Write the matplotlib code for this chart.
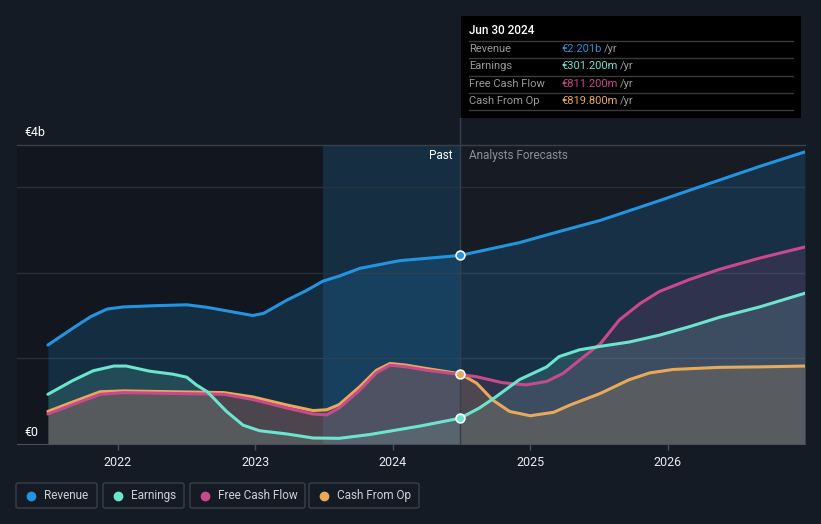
import matplotlib
matplotlib.use("Agg")
import matplotlib.pyplot as plt
from matplotlib.patches import Rectangle, FancyBboxPatch
from matplotlib.lines import Line2D

# Visual configuration
BG = '#151b25'
PLOT_BG = '#12171f'
FORECAST_BG = '#161b24'
GRID = '#2a303a'
REV_C = '#2394df'
EARN_C = '#6ce5cf'
FCF_C = '#c94a8a'
CFO_C = '#e8aa5a'
FONT = 'Roboto'

# Data (EUR billions, fractional years)
rev_t = [2021.49, 2021.67, 2021.80, 2021.92, 2022.04, 2022.28, 2022.50, 2022.65, 2022.84,
         2022.98, 2023.06, 2023.23, 2023.37, 2023.49, 2023.61, 2023.76, 2024.05, 2024.49,
         2024.92, 2025.21, 2025.51, 2025.94, 2026.23, 2026.67, 2027.00]
rev_v = [1.155, 1.35, 1.485, 1.575, 1.60, 1.615, 1.625, 1.595, 1.54,
         1.50, 1.525, 1.68, 1.79, 1.90, 1.96, 2.05, 2.14, 2.201,
         2.35, 2.48, 2.61, 2.84, 3.00, 3.24, 3.41]

earn_t = [2021.49, 2021.67, 2021.82, 2021.97, 2022.06, 2022.23, 2022.40, 2022.50, 2022.57,
          2022.65, 2022.79, 2022.91, 2023.03, 2023.23, 2023.42, 2023.61, 2023.83, 2024.20,
          2024.49, 2024.63, 2024.75, 2024.92, 2025.12, 2025.21, 2025.36, 2025.51, 2025.72,
          2025.94, 2026.16, 2026.38, 2026.67, 2027.00]
earn_v = [0.58, 0.74, 0.855, 0.91, 0.91, 0.85, 0.815, 0.78, 0.69,
          0.61, 0.38, 0.22, 0.155, 0.117, 0.07, 0.066, 0.11, 0.21,
          0.3012, 0.42, 0.55, 0.75, 0.90, 1.02, 1.10, 1.14, 1.19,
          1.27, 1.37, 1.48, 1.60, 1.76]

fcf_t = [2021.49, 2021.67, 2021.87, 2022.04, 2022.77, 2022.98, 2023.23, 2023.42, 2023.52,
         2023.61, 2023.76, 2023.88, 2023.98, 2024.10, 2024.25, 2024.49, 2024.61, 2024.80,
         2024.97, 2025.12, 2025.24, 2025.36, 2025.51, 2025.65, 2025.80, 2025.94, 2026.16,
         2026.38, 2026.67, 2027.00]
fcf_v = [0.35, 0.46, 0.58, 0.60, 0.58, 0.52, 0.42, 0.35, 0.34,
         0.42, 0.63, 0.83, 0.92, 0.90, 0.86, 0.8112, 0.785, 0.715,
         0.69, 0.73, 0.825, 0.98, 1.17, 1.45, 1.64, 1.78, 1.92,
         2.04, 2.17, 2.30]

cfo_t = [2021.49, 2021.67, 2021.87, 2022.04, 2022.77, 2022.98, 2023.23, 2023.42, 2023.52,
         2023.61, 2023.76, 2023.88, 2023.98, 2024.10, 2024.25, 2024.49, 2024.61, 2024.73,
         2024.85, 2025.00, 2025.17, 2025.29, 2025.51, 2025.72, 2025.87, 2026.04, 2026.38,
         2026.67, 2027.00]
cfo_v = [0.38, 0.49, 0.61, 0.62, 0.60, 0.55, 0.455, 0.39, 0.40,
         0.46, 0.67, 0.86, 0.94, 0.92, 0.88, 0.8198, 0.71, 0.51,
         0.38, 0.33, 0.37, 0.455, 0.59, 0.75, 0.83, 0.87, 0.895,
         0.90, 0.91]

year_ticks = [2022, 2023, 2024, 2025, 2026]
past_end = 2024.49
highlight_start = 2023.49

series = [
    ('Revenue', rev_t, rev_v, REV_C, '€2.201b'),
    ('Earnings', earn_t, earn_v, EARN_C, '€301.200m'),
    ('Free Cash Flow', fcf_t, fcf_v, FCF_C, '€811.200m'),
    ('Cash From Op', cfo_t, cfo_v, CFO_C, '€819.800m'),
]

fig = plt.figure(figsize=(8.21, 5.24), dpi=100)
fig.set_facecolor(BG)
ax = fig.add_axes([17 / 821, 80 / 524, 788 / 821, 299 / 524])
ax.set_facecolor(PLOT_BG)
ax.set_xlim(2021.265, 2027.0)
ax.set_ylim(0, 3.49)

# Background regions
ax.axvspan(past_end, 2027.0, color=FORECAST_BG, zorder=0, lw=0)
ax.axvspan(highlight_start, past_end, color='#1d5a85', alpha=0.35, zorder=0, lw=0)

# Gridlines
for g in [1, 2, 3]:
    ax.axhline(g, color=GRID, lw=1, zorder=1)
ax.axhline(3.49, color='#3a404a', lw=1, zorder=1, clip_on=False)

# Fills and lines
fill_alpha = {'Revenue': 0.18, 'Earnings': 0.16, 'Free Cash Flow': 0.14, 'Cash From Op': 0.17}
for name, t, v, c, _ in series:
    ax.fill_between(t, 0, v, color=c, alpha=fill_alpha[name], lw=0, zorder=2)
for name, t, v, c, _ in reversed(series):
    ax.plot(t, v, color=c, lw=2.2, solid_capstyle='round', solid_joinstyle='round', zorder=3)

# Markers at the last reported point
for name, t, v, c, _ in series:
    if name == 'Free Cash Flow':
        continue
    i = t.index(past_end)
    ax.scatter([t[i]], [v[i]], s=40, color=c, edgecolors='white', linewidths=1.2, zorder=5)

# Vertical divider up to tooltip
ax.axvline(past_end, ymin=0, ymax=(444 - 118) / 299, color='#34404e', lw=1, zorder=4, clip_on=False)

# Axes styling
for s in ['top', 'right', 'left']:
    ax.spines[s].set_visible(False)
ax.spines['bottom'].set_color('#4a505a')
ax.set_yticks([])
ax.set_xticks(year_ticks)
ax.set_xticklabels([str(y) for y in year_ticks], fontsize=9, fontfamily=FONT)
ax.tick_params(axis='x', colors='#4a505a', length=4, width=1, pad=5, labelcolor='#ececec')

# Y labels
fig.text(24 / 821, 1 - 132 / 524, '€4b', color='white', fontsize=9, fontfamily=FONT, va='center')
fig.text(24 / 821, 1 - 432 / 524, '€0', color='white', fontsize=9, fontfamily=FONT, va='center')

# Past / forecast labels
fig.text(453 / 821, 1 - 156 / 524, 'Past', color='white', fontsize=8.5, fontfamily=FONT,
         ha='right', va='center')
fig.text(469 / 821, 1 - 156 / 524, 'Analysts Forecasts', color='#8a8f98', fontsize=8.5,
         fontfamily=FONT, ha='left', va='center')

# Tooltip box
fig.patches.append(Rectangle((461 / 821, 1 - 118 / 524), 340 / 821, 102 / 524,
                             transform=fig.transFigure, facecolor='black', edgecolor='none',
                             zorder=10))
fig.text(469 / 821, 1 - 31 / 524, 'Jun 30 2024', color='white', fontsize=8.5,
         fontfamily=FONT, fontweight='medium', va='center', zorder=11)
row_y = [49, 66, 84, 101]
for k in [41, 58, 76, 93, 110]:
    fig.add_artist(Line2D([469 / 821, 793 / 821], [1 - k / 524, 1 - k / 524],
                          color='#3a3a3a', lw=1, zorder=11))
for (name, t, v, c, val), ry in zip(series, row_y):
    fig.text(469 / 821, 1 - ry / 524, name, color='#9a9a9a', fontsize=8, fontfamily=FONT,
             va='center', zorder=11)
    tx = fig.text(561 / 821, 1 - ry / 524, val, color=c, fontsize=8, fontfamily=FONT,
                  va='center', zorder=11)
    fig.canvas.draw()
    bb = tx.get_window_extent()
    fig.text((bb.x1 + 3) / 821, 1 - ry / 524, '/yr', color='#9a9a9a', fontsize=8,
             fontfamily=FONT, va='center', zorder=11)

# Legend boxes
legend_boxes = [(16, 97), (103, 184), (190, 305), (309, 419)]
for (name, t, v, c, _), (x0, x1) in zip(series, legend_boxes):
    fig.patches.append(FancyBboxPatch((x0 / 821, 1 - 508 / 524), (x1 - x0) / 821, 25 / 524,
                                      boxstyle='round,pad=0,rounding_size=0.003',
                                      transform=fig.transFigure, facecolor='none',
                                      edgecolor='#3a3f48', lw=1))
    fig.add_artist(Line2D([(x0 + 15) / 821], [1 - 495.5 / 524], marker='o', markersize=6,
                          color=c, lw=0))
    fig.text((x0 + 28) / 821, 1 - 495.5 / 524, name, color='#d0d0d0', fontsize=8.5,
             fontfamily=FONT, va='center')

fig.savefig('out.png', dpi=100, facecolor=BG)
